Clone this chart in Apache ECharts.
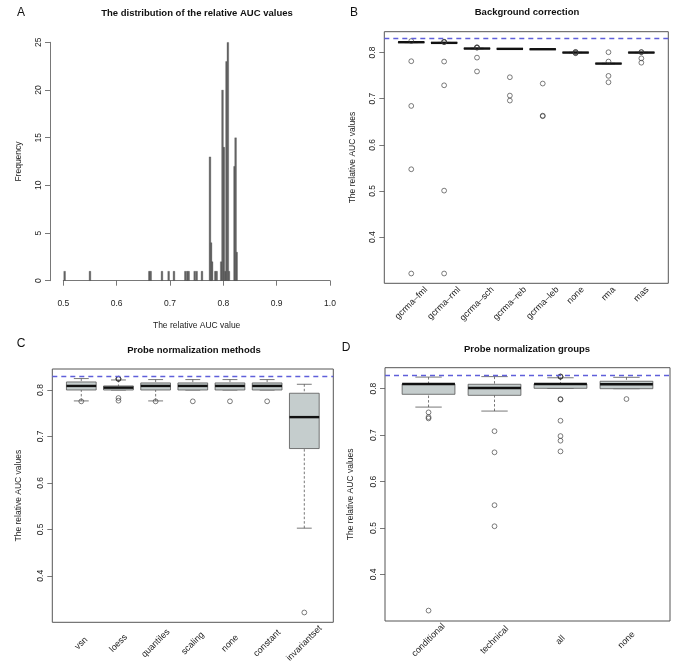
<!DOCTYPE html>
<html>
<head>
<meta charset="utf-8">
<script src="https://cdn.jsdelivr.net/npm/echarts@6/dist/echarts.min.js"></script>
<style>html,body{margin:0;padding:0;background:#fff}#c{width:685px;height:665px}</style>
</head>
<body>
<div id="c"></div>
<script>
// ---------- Panel A: histogram ----------
const histX     = [0.5025,0.5500,0.6613,0.6638,0.6850,0.6975,0.7075,0.7288,0.7325,0.7350,0.7463,0.7500,0.7600,0.7770,0.7790,0.7750,0.7850,0.7875,0.7960,0.8035,0.8010,0.7985,0.8105,0.8060,0.8085,0.8250,0.8210,0.8230];
const histCount = [1,1,1,1,1,1,1,1,1,1,1,1,1,4,2,13,1,1,2,1,14,20,1,23,25,3,12,15];
const aucTicks  = [0.5,0.6,0.7,0.8,0.9,1.0];
const freqTicks = [0,5,10,15,20,25];

// ---------- Panel B: background correction ----------
const bgCats  = ['gcrma\u2013fml','gcrma\u2013rml','gcrma\u2013sch','gcrma\u2013reb','gcrma\u2013leb','none','rma','mas'];
// [lower whisker, Q1, median, Q3, upper whisker]
const bgStats = [
  [0.8215,0.8220,0.8224,0.8228,0.8230],
  [0.8200,0.8205,0.8210,0.8215,0.8220],
  [0.8080,0.8085,0.8087,0.8090,0.8095],
  [0.8075,0.8078,0.8080,0.8082,0.8085],
  [0.8070,0.8070,0.8072,0.8075,0.8075],
  [0.7995,0.7998,0.8000,0.8002,0.8005],
  [0.7755,0.7758,0.7761,0.7764,0.7767],
  [0.7995,0.7998,0.8000,0.8002,0.8005]
];
const bgOut = [
  [1,0.825],[1,0.7812],[1,0.6843],[1,0.547],[1,0.321],
  [2,0.8225],[2,0.823],[2,0.8235],[2,0.7805],[2,0.729],[2,0.5007],[2,0.321],
  [3,0.8105],[3,0.811],[3,0.8115],[3,0.789],[3,0.759],
  [4,0.7465],[4,0.7067],[4,0.6959],
  [5,0.7328],[5,0.6632],[5,0.662],
  [6,0.8015],[6,0.801],[6,0.799],[6,0.7985],
  [7,0.8007],[7,0.7805],[7,0.7494],[7,0.7356],
  [8,0.8008],[8,0.801],[8,0.7875],[8,0.778]
];

// ---------- Panel C: probe normalization methods ----------
const pnCats  = ['vsn','loess','quantiles','scaling','none','constant','invariantset'];
const pnStats = [
  [0.7765,0.8000,0.8087,0.8173,0.8246],
  [0.8000,0.8000,0.8050,0.8087,0.8216],
  [0.7765,0.8000,0.8087,0.8152,0.8224],
  [0.8000,0.8000,0.8087,0.8152,0.8224],
  [0.8000,0.8000,0.8087,0.8152,0.8224],
  [0.8000,0.8000,0.8087,0.8152,0.8224],
  [0.5025,0.6739,0.7416,0.7930,0.8123]
];
const pnOut = [
  [1,0.7755],[2,0.8235],[2,0.824],[2,0.8245],[2,0.7827],[2,0.777],
  [3,0.7755],[4,0.7756],[5,0.7756],[6,0.7756],[7,0.3209]
];

// ---------- Panel D: probe normalization groups ----------
const grpCats  = ['conditional','technical','all','none'];
const grpStats = [
  [0.7604,0.7879,0.8102,0.8102,0.8250],
  [0.7518,0.7857,0.8015,0.8095,0.8260],
  [0.8008,0.8008,0.8102,0.8102,0.8235],
  [0.8000,0.8000,0.8095,0.8160,0.8245]
];
const grpOut = [
  [1,0.749],[1,0.7388],[1,0.736],[1,0.3222],
  [2,0.7085],[2,0.663],[2,0.5492],[2,0.5038],
  [3,0.8255],[3,0.826],[3,0.8265],[3,0.7777],[3,0.7767],[3,0.731],[3,0.698],[3,0.688],[3,0.665],
  [4,0.7777]
];

const aucTicksBox = [0.4,0.5,0.6,0.7,0.8];
const refLine = 0.826;
const yRange = [0.2998, 0.8452];

// ---------- rendering ----------
const FONT = 'Liberation Sans, Arial, Helvetica, sans-serif';
const LABEL_PX = 9;
const chart = echarts.init(document.getElementById('c'), null, {renderer: 'canvas'});
const mctx = document.createElement('canvas').getContext('2d');
mctx.font = LABEL_PX + 'px "Liberation Sans"';
const textW = t => mctx.measureText(t).width;

const grids = [
  {left: 63.3, top: 42.3, width: 266.7, height: 238.4},
  {left: 384.3, top: 31.7, width: 284, height: 251.6, show: true, borderColor: '#555', borderWidth: 1, backgroundColor: 'rgba(0,0,0,0)'},
  {left: 52.3, top: 369, width: 281, height: 253.3, show: true, borderColor: '#555', borderWidth: 1, backgroundColor: 'rgba(0,0,0,0)'},
  {left: 385, top: 367.7, width: 285, height: 253.3, show: true, borderColor: '#555', borderWidth: 1, backgroundColor: 'rgba(0,0,0,0)'}
];

function boxRender(params, api) {
  const x = api.value(0), lo = api.value(1), q1 = api.value(2), md = api.value(3), q3 = api.value(4), hi = api.value(5);
  const hw = 0.4, cw = 0.2;
  const tl = api.coord([x - hw, q3]), br = api.coord([x + hw, q1]);
  const cm = api.coord([x, md]);
  const pHi = api.coord([x, hi]), pLo = api.coord([x, lo]);
  const pQ3 = api.coord([x, q3]), pQ1 = api.coord([x, q1]);
  const cl = api.coord([x - cw, hi])[0], cr = api.coord([x + cw, hi])[0];
  const wStyle = {stroke: '#555', lineWidth: 0.8, lineDash: [2.5, 2]};
  const cStyle = {stroke: '#555', lineWidth: 0.8};
  return {type: 'group', children: [
    {type: 'line', shape: {x1: pHi[0], y1: pHi[1], x2: pQ3[0], y2: pQ3[1]}, style: wStyle},
    {type: 'line', shape: {x1: pLo[0], y1: pLo[1], x2: pQ1[0], y2: pQ1[1]}, style: wStyle},
    {type: 'line', shape: {x1: cl, y1: pHi[1], x2: cr, y2: pHi[1]}, style: cStyle},
    {type: 'line', shape: {x1: cl, y1: pLo[1], x2: cr, y2: pLo[1]}, style: cStyle},
    {type: 'rect', shape: {x: tl[0], y: tl[1], width: br[0] - tl[0], height: Math.max(br[1] - tl[1], 0.3)},
      style: {fill: '#c5cdcd', stroke: '#555', lineWidth: 0.8}},
    {type: 'line', shape: {x1: tl[0], y1: cm[1], x2: br[0], y2: cm[1]}, style: {stroke: '#111', lineWidth: 2.4}}
  ]};
}

// mode 'top': labels hang from the frame, horizontally centred on the box;
// mode 'center': labels centred below the box
function boxXAxis(gi, cats, mode, margin) {
  const n = cats.length;
  const unitPx = grids[gi].width / (n * 1.08);
  const pos = cats.map((c, i) => mode === 'top' ? i + 1 + (textW(c) * Math.SQRT1_2 / 2) / unitPx : i + 1);
  const lab = {
    customValues: pos,
    formatter: v => {
      let best = 0;
      pos.forEach((p, i) => { if (Math.abs(p - v) < Math.abs(pos[best] - v)) best = i; });
      return cats[best];
    },
    rotate: 45, margin: margin, fontSize: LABEL_PX, color: '#222', fontFamily: FONT
  };
  if (mode === 'center') { lab.align = 'center'; lab.verticalAlign = 'middle'; }
  return {
    gridIndex: gi, type: 'value', min: 0.5 - 0.04 * n, max: n + 0.5 + 0.04 * n,
    axisLine: {show: false}, axisTick: {show: false}, splitLine: {show: false},
    axisLabel: lab
  };
}
function boxYAxis(gi, gap) {
  return {
    gridIndex: gi, type: 'value', min: yRange[0], max: yRange[1],
    name: 'The relative AUC values', nameLocation: 'middle', nameGap: gap,
    nameTextStyle: {fontSize: 8.5, color: '#222', fontFamily: FONT},
    axisLine: {show: false}, splitLine: {show: false},
    axisTick: {show: true, customValues: aucTicksBox, length: 5, lineStyle: {color: '#555', width: 0.8}},
    axisLabel: {customValues: aucTicksBox, formatter: v => v.toFixed(1), rotate: 90, margin: 7,
      fontSize: 8.5, color: '#222', fontFamily: FONT}
  };
}
function boxSeries(gi, stats, outs) {
  return [
    {type: 'custom', xAxisIndex: gi, yAxisIndex: gi, renderItem: boxRender, clip: false,
      encode: {x: 0, y: [1, 2, 3, 4, 5]},
      data: stats.map((s, i) => [i + 1].concat(s)), z: 2},
    {type: 'scatter', xAxisIndex: gi, yAxisIndex: gi, data: outs, symbol: 'circle', symbolSize: 4.8,
      itemStyle: {color: 'rgba(0,0,0,0)', borderColor: '#333', borderWidth: 0.8}, z: 3, silent: true,
      markLine: {silent: true, symbol: ['none', 'none'], label: {show: false},
        lineStyle: {color: '#5f5fda', type: [5, 4], width: 1.3},
        data: [{yAxis: refLine}]}}
  ];
}

const txt = (x, y, text, font, align) => ({type: 'text', x: x, y: y, silent: true,
  style: {text: text, font: font, fill: '#111', textAlign: align || 'center', textVerticalAlign: 'middle'}});

const option = {
  animation: false,
  backgroundColor: '#fff',
  grid: grids,
  xAxis: [
    {gridIndex: 0, type: 'value', min: 0.5, max: 1.0, interval: 0.1, offset: 10,
      name: 'The relative AUC value', nameLocation: 'middle', nameGap: 30,
      nameTextStyle: {fontSize: 8.5, color: '#222', fontFamily: FONT},
      axisLine: {show: true, lineStyle: {color: '#555', width: 0.8}},
      axisTick: {show: true, length: 5, lineStyle: {color: '#555', width: 0.8}},
      axisLabel: {formatter: v => v.toFixed(1), margin: 8, fontSize: 8.5, color: '#222', fontFamily: FONT},
      splitLine: {show: false}},
    boxXAxis(1, bgCats, 'top', 5), boxXAxis(2, pnCats, 'center', 21), boxXAxis(3, grpCats, 'center', 19)
  ],
  yAxis: [
    {gridIndex: 0, type: 'value', min: 0, max: 25, interval: 5, offset: 13.3,
      name: 'Frequency', nameLocation: 'middle', nameGap: 27,
      nameTextStyle: {fontSize: 8.5, color: '#222', fontFamily: FONT},
      axisLine: {show: true, lineStyle: {color: '#555', width: 0.8}},
      axisTick: {show: true, length: 5, lineStyle: {color: '#555', width: 0.8}},
      axisLabel: {rotate: 90, margin: 7, fontSize: 8.5, color: '#222', fontFamily: FONT},
      splitLine: {show: false}},
    boxYAxis(1, 27.5), boxYAxis(2, 29), boxYAxis(3, 29.5)
  ],
  series: [
    {type: 'bar', xAxisIndex: 0, yAxisIndex: 0, barWidth: 2,
      data: histX.map((x, i) => [x, histCount[i]]),
      itemStyle: {color: '#666', borderColor: '#444', borderWidth: 0.3}, silent: true}
  ].concat(boxSeries(1, bgStats, bgOut), boxSeries(2, pnStats, pnOut), boxSeries(3, grpStats, grpOut)),
  graphic: [
    txt(21, 13, 'A', '12px ' + FONT),
    txt(354, 13, 'B', '12px ' + FONT),
    txt(21, 344, 'C', '12px ' + FONT),
    txt(346, 348, 'D', '12px ' + FONT),
    txt(197, 13, 'The distribution of the relative AUC values', 'bold 9.5px ' + FONT),
    txt(527, 12, 'Background correction', 'bold 9.5px ' + FONT),
    txt(194, 350, 'Probe normalization methods', 'bold 9.5px ' + FONT),
    txt(527, 349, 'Probe normalization groups', 'bold 9.5px ' + FONT)
  ]
};
chart.setOption(option);
</script>
</body>
</html>
